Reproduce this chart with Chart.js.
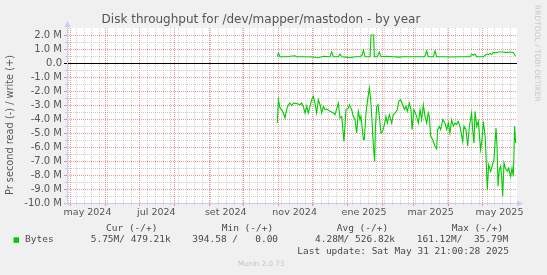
<!DOCTYPE html>
<html><head><meta charset="utf-8">
<script src="https://cdn.jsdelivr.net/npm/chart.js@4/dist/chart.umd.min.js"></script>
<style>html,body{margin:0;padding:0;background:#f0f0f0;overflow:hidden}canvas{display:block}</style>
</head><body><canvas id="c" width="547" height="275"></canvas>
<script>
// x values are days since 1 May 2024
const monthStartDays = [0,31,61,92,123,153,184,214,245,276,304,335,365,396];
const monthLabels = ['may 2024','jul 2024','set 2024','nov 2024','ene 2025','mar 2025','may 2025'];
const monthLabelIndex = [0,2,4,6,8,10,12];
const firstMondayDay = -2;
const xRange = [-2.66, 396.0];
const yRange = [-10, 2.5];

const readDays = [183.7,184.6,186.0,187.5,189.0,190.5,191.9,193.4,194.9,196.4,
197.9,200.8,203.8,205.2,206.7,208.2,209.7,211.1,214.1,215.6,
217.0,218.5,220.0,221.5,223.0,224.4,225.9,227.4,230.3,233.3,
234.8,237.7,239.2,240.7,242.7,244.5,246.6,247.5,249.5,251.0,
252.5,254.0,255.4,256.9,257.8,258.7,259.9,260.7,262.2,263.7,
265.2,266.4,267.5,268.7,269.9,270.5,271.7,272.9,274.0,275.5,
277.0,278.8,279.9,281.1,282.9,285.0,286.4,288.2,290.0,291.2,
292.9,294.7,296.2,297.7,298.8,300.6,302.1,303.0,304.7,307.1,
308.6,310.1,311.5,313.0,314.5,316.0,317.4,318.3,319.5,321.3,
323.4,324.8,325.7,327.2,328.4,330.2,332.2,333.7,335.2,336.6,
338.1,339.6,341.1,342.5,344.0,345.5,347.9,349.0,350.8,352.3,
353.8,355.8,356.7,357.9,358.8,360.3,361.7,363.8,365.0,366.2,
367.9,369.7,370.9,372.7,373.9,375.6,377.4,378.3,379.2,380.3,
381.5,382.4,383.3,384.5,385.7,387.4,388.6,390.4,391.6,392.8,
393.9,394.8];
// read throughput in M (drawn negative)
const readValues = [-4.29,-2.62,-3.21,-3.33,-3.57,-3.93,-3.33,-2.98,-2.86,-3.05,
-2.86,-2.90,-2.98,-2.86,-3.10,-3.57,-3.10,-3.57,-2.62,-2.38,
-2.86,-3.57,-2.62,-2.98,-3.57,-3.10,-3.33,-3.29,-3.45,-3.57,
-3.69,-2.86,-3.93,-3.81,-5.60,-3.33,-3.21,-2.98,-3.33,-3.81,
-4.05,-5.00,-3.45,-4.05,-3.81,-4.52,-5.48,-5.48,-3.57,-2.62,
-1.79,-2.62,-4.05,-5.83,-7.02,-4.76,-3.10,-2.98,-3.81,-5.00,
-4.88,-4.29,-3.81,-4.29,-3.69,-4.29,-3.69,-3.57,-3.33,-2.74,
-2.62,-2.98,-3.33,-3.10,-3.45,-2.86,-3.33,-4.76,-3.33,-3.81,
-4.29,-3.33,-4.05,-2.98,-3.81,-4.29,-3.57,-3.81,-5.24,-5.48,
-5.95,-6.14,-4.76,-4.52,-4.76,-4.05,-4.29,-4.76,-4.29,-5.00,
-4.05,-4.52,-4.29,-4.40,-4.17,-4.52,-5.60,-4.52,-4.76,-5.95,
-4.52,-3.57,-4.76,-5.71,-3.45,-4.52,-4.17,-6.19,-5.48,-4.17,
-5.36,-9.05,-7.26,-7.74,-7.38,-6.90,-4.64,-5.95,-8.81,-7.62,
-7.38,-8.10,-9.52,-7.14,-7.50,-7.74,-7.50,-8.10,-7.50,-8.10,
-4.52,-5.71];

const writeDays = [183.7,184.6,186.0,191.9,194.9,199.3,200.8,206.7,215.6,220.0,
224.4,230.3,231.8,233.3,237.7,239.2,240.7,245.1,248.1,252.5,
256.9,258.7,259.9,261.4,265.8,266.7,269.0,269.6,272.3,274.0,
275.5,280.5,286.4,290.9,295.3,304.1,313.0,314.5,316.0,317.4,
321.9,323.4,324.8,330.7,336.6,345.5,354.4,355.8,357.3,358.8,
360.3,361.7,366.2,369.1,370.6,372.1,373.6,375.0,378.0,379.5,
383.9,386.8,389.8,392.8,394.8];
const writeValues = [0.45,0.71,0.45,0.45,0.48,0.52,0.45,0.45,0.43,0.38,
0.48,0.45,0.79,0.45,0.45,0.64,0.45,0.42,0.38,0.45,
0.45,0.55,0.93,0.45,0.45,2.0,2.0,0.45,0.45,0.79,
0.45,0.48,0.45,0.42,0.45,0.45,0.45,0.5,0.86,0.45,
0.45,0.86,0.45,0.45,0.43,0.45,0.45,0.64,0.55,0.64,
0.45,0.45,0.45,0.64,0.6,0.69,0.6,0.74,0.74,0.79,
0.79,0.74,0.79,0.74,0.48];

const titleText = 'Disk throughput for /dev/mapper/mastodon - by year';
const yTitleText = 'Pr second read (-) / write (+)';
const sideText = 'RRDTOOL / TOBI OETIKER';
const legendHeaders = ['Cur (-/+)','Min (-/+)','Avg (-/+)','Max (-/+)'];
const seriesName = 'Bytes';
const legendValues = ['5.75M/ 479.21k','394.58 /   0.00','4.28M/ 526.82k','161.12M/  35.79M'];
const lastUpdateText = 'Last update: Sat May 31 21:00:28 2025';
const versionText = 'Munin 2.0.73';

const GREEN = '#00cc00';
const MAJOR = 'rgba(222,79,79,0.6)';
const MINOR = 'rgba(150,150,150,0.45)';
const AXIS = '#c9cdf2';

const zip = (xs, ys) => xs.slice(0, Math.min(xs.length, ys.length)).map((x, i) => ({x, y: ys[i]}));

// tick sets for x
const weekDays = [];
for (let d = firstMondayDay; d <= xRange[1]; d += 7) weekDays.push(d);
const xLabelAt = {};
const xLabelTicks = monthLabelIndex.map((mi, k) => {
  const mid = (monthStartDays[mi] + monthStartDays[mi + 1]) / 2;
  xLabelAt[mid] = monthLabels[k];
  return mid;
});

const yTicks = [];
for (let v = yRange[0]; v <= yRange[1] + 1e-9; v += 0.5) yTicks.push(Math.round(v * 10) / 10);

function fitFont(ctx, text, family, targetW) {
  ctx.font = '10px ' + family;
  const w = ctx.measureText(text).width;
  ctx.font = (10 * targetW / w).toFixed(2) + 'px ' + family;
}

const gridPlugin = {
  id: 'rrdgrid',
  beforeDatasetsDraw(chart) {
    const {ctx, chartArea: a, scales: {x, y}} = chart;
    ctx.save();
    ctx.lineWidth = 1;
    const vline = (v, color, tick) => {
      const px = Math.round(x.getPixelForValue(v)) + 0.5;
      if (px < a.left || px > a.right) return;
      ctx.strokeStyle = color; ctx.setLineDash([1, 1]);
      ctx.beginPath(); ctx.moveTo(px, a.bottom); ctx.lineTo(px, a.top); ctx.stroke();
      ctx.setLineDash([]);
      ctx.beginPath(); ctx.moveTo(px, a.bottom); ctx.lineTo(px, a.bottom + tick); ctx.stroke();
    };
    const hline = (v, color, tick) => {
      const py = Math.round(y.getPixelForValue(v)) + 0.5;
      ctx.strokeStyle = color; ctx.setLineDash([1, 1]);
      ctx.beginPath(); ctx.moveTo(a.left, py); ctx.lineTo(a.right, py); ctx.stroke();
      ctx.setLineDash([]);
      ctx.beginPath(); ctx.moveTo(a.left - tick, py); ctx.lineTo(a.left, py); ctx.stroke();
    };
    weekDays.forEach(d => { if (!monthStartDays.includes(d)) vline(d, MINOR, 2); });
    monthStartDays.forEach(d => vline(d, MAJOR, 3));
    yTicks.forEach(v => { if (v !== 0 && v < yRange[1]) hline(v, Number.isInteger(v) ? MAJOR : MINOR, Number.isInteger(v) ? 3 : 2); });
    // zero line
    const pz = Math.round(y.getPixelForValue(0)) + 0.5;
    ctx.strokeStyle = '#000'; ctx.setLineDash([]);
    ctx.beginPath(); ctx.moveTo(a.left - 3, pz); ctx.lineTo(a.right, pz); ctx.stroke();
    ctx.restore();
  }
};

const decor = {
  id: 'decor',
  beforeDraw(chart) {
    const {ctx, chartArea: a} = chart;
    ctx.save();
    ctx.fillStyle = '#f0f0f0'; ctx.fillRect(0, 0, chart.width, chart.height);
    ctx.fillStyle = '#ffffff'; ctx.fillRect(a.left, a.top, a.right - a.left, a.bottom - a.top);
    ctx.restore();
  },
  afterDraw(chart) {
    const {ctx, chartArea: a} = chart;
    ctx.save();
    // axes + arrows
    ctx.fillStyle = AXIS; ctx.strokeStyle = AXIS; ctx.lineWidth = 1;
    ctx.beginPath(); ctx.moveTo(a.left + 0.5, a.bottom + 2); ctx.lineTo(a.left + 0.5, a.top - 3); ctx.stroke();
    ctx.beginPath(); ctx.moveTo(a.left - 2, a.bottom + 0.5); ctx.lineTo(a.right + 1, a.bottom + 0.5); ctx.stroke();
    ctx.beginPath(); ctx.moveTo(a.left - 2.5, a.top - 1); ctx.lineTo(a.left + 3.5, a.top - 1); ctx.lineTo(a.left + 0.5, a.top - 7); ctx.closePath(); ctx.fill();
    ctx.beginPath(); ctx.moveTo(a.right, a.bottom - 2.5); ctx.lineTo(a.right, a.bottom + 3.5); ctx.lineTo(a.right + 6, a.bottom + 0.5); ctx.closePath(); ctx.fill();
    // title
    ctx.fillStyle = '#555'; ctx.textAlign = 'center'; ctx.textBaseline = 'alphabetic';
    fitFont(ctx, titleText, "'DejaVu Sans'", 319);
    ctx.fillText(titleText, 261, 23);
    // y title
    ctx.save(); ctx.translate(10.5, 125); ctx.rotate(-Math.PI / 2);
    ctx.textBaseline = 'middle';
    fitFont(ctx, yTitleText, "'DejaVu Sans'", 140);
    ctx.fillText(yTitleText, 0, 0);
    ctx.restore();
    // side text
    ctx.save(); ctx.translate(537, 53.3); ctx.rotate(Math.PI / 2);
    ctx.fillStyle = '#c8c8c8'; ctx.textBaseline = 'middle';
    fitFont(ctx, sideText, "'DejaVu Sans'", 96.7);
    ctx.fillText(sideText, 0, 0);
    ctx.restore();
    // legend
    ctx.fillStyle = '#4a4a4a'; ctx.textAlign = 'left'; ctx.textBaseline = 'middle';
    ctx.font = "9.5px 'DejaVu Sans Mono'";
    const hx = [106, 221.7, 336.7, 451.7];
    legendHeaders.forEach((t, i) => ctx.fillText(t, hx[i], 228.5));
    ctx.fillStyle = GREEN; ctx.fillRect(13.5, 237.3, 5.5, 5.5);
    ctx.fillStyle = '#4a4a4a';
    ctx.fillText(seriesName, 25, 240);
    const vx = [90.7, 192.3, 315, 416.7];
    legendValues.forEach((t, i) => ctx.fillText(t, vx[i], 240));
    ctx.fillText(lastUpdateText, 297.3, 252);
    ctx.fillStyle = '#c4c4c4'; ctx.textAlign = 'center';
    fitFont(ctx, versionText, "'DejaVu Sans'", 46.7);
    ctx.fillText(versionText, 261, 264.5);
    ctx.restore();
  }
};

new Chart(document.getElementById('c'), {
  type: 'line',
  data: {
    datasets: [
      {label: 'write', data: zip(writeDays, writeValues), borderColor: GREEN, borderWidth: 1.1, pointRadius: 0, tension: 0, fill: false},
      {label: 'read', data: zip(readDays, readValues), borderColor: GREEN, borderWidth: 1.1, pointRadius: 0, tension: 0, fill: false}
    ]
  },
  options: {
    responsive: false, animation: false, devicePixelRatio: 1,
    layout: {padding: {top: 28, left: 0, right: 30, bottom: 52}},
    plugins: {legend: {display: false}, tooltip: {enabled: false}, title: {display: false}},
    scales: {
      x: {
        type: 'linear', min: xRange[0], max: xRange[1],
        afterBuildTicks: s => { s.ticks = xLabelTicks.map(v => ({value: v})); },
        afterFit: s => { s.height = 20; },
        ticks: {
          autoSkip: false, maxRotation: 0, minRotation: 0, padding: 1,
          color: '#555', font: {family: "'DejaVu Sans'", size: 9.5},
          callback: v => xLabelAt[v] || ''
        },
        grid: {display: false, drawTicks: true, tickLength: 3},
        border: {display: false}
      },
      y: {
        type: 'linear', min: yRange[0], max: yRange[1],
        afterBuildTicks: s => { s.ticks = yTicks.map(v => ({value: v})); },
        afterFit: s => { s.width = 67; },
        ticks: {
          autoSkip: false, padding: 2,
          color: '#555', font: {family: "'DejaVu Sans'", size: 10},
          callback: v => Number.isInteger(v) && v <= 2 ? (v === 0 ? '0.0' : v.toFixed(1) + ' M') : ''
        },
        grid: {display: false, drawTicks: true, tickLength: 3},
        border: {display: false}
      }
    }
  },
  plugins: [gridPlugin, decor]
});
</script>
</body></html>
